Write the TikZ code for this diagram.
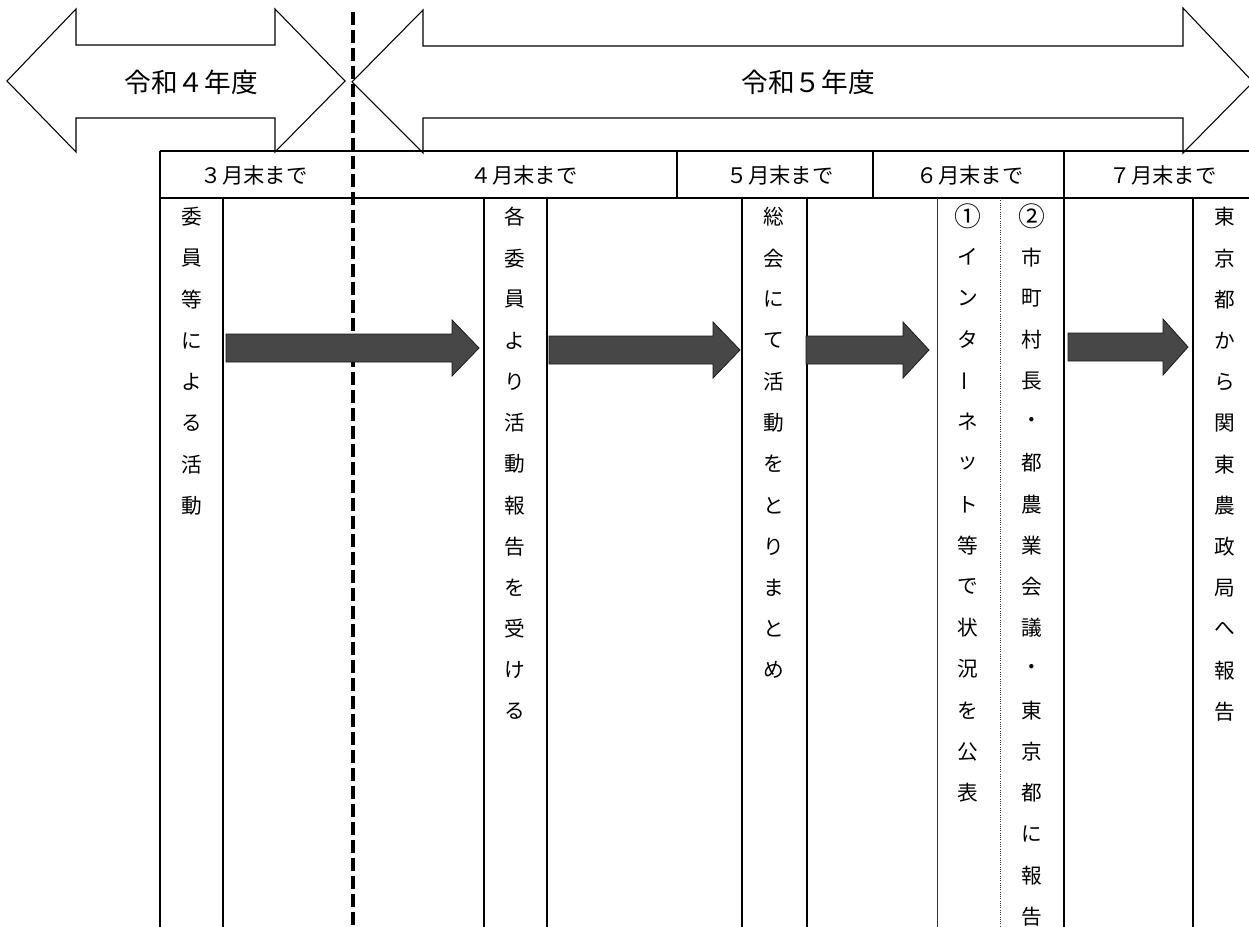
\documentclass[tikz,border=0pt]{standalone}
\usepackage{fontspec}
\usepackage{graphicx}
\newfontfamily\jp{Noto Sans CJK JP}
\newcommand\vbarchar{\rotatebox[origin=c]{90}{ー}}
\newcommand\circone{\scalebox{1.3}{①}}
\newcommand\circtwo{\scalebox{1.3}{②}}
\tikzset{
  outl/.style={draw=black, line width=0.8pt, fill=white, line join=miter},
  gridl/.style={draw=black, line width=0.9pt},
  thinl/.style={draw=black!80, line width=0.7pt},
  dotl/.style={draw=black!80, line width=0.7pt, densely dotted},
  dashv/.style={draw=black, line width=2.4pt, dash pattern=on 10pt off 3.5pt},
  blk/.style={fill=black!72, draw=black!90, line width=0.6pt, line join=miter},
  lbl/.style={font=\jp\fontsize{20pt}{20pt}\selectfont, inner sep=0pt},
  hdr/.style={font=\jp\fontsize{16pt}{16pt}\selectfont, inner sep=0pt},
  vch/.style={font=\jp\fontsize{15.5pt}{15.5pt}\selectfont, inner sep=0pt},
}
\begin{document}
\begin{tikzpicture}[x=0.75pt,y=-0.75pt]
\useasboundingbox (0,0) rectangle (1249,927);
\fill[white] (0,0) rectangle (1249,927);

% fiscal-year double arrows
\draw[outl] (7,81) -- (76,9) -- (76,45) -- (275,45) -- (275,9) -- (345,81)
  -- (275,152) -- (275,118) -- (76,118) -- (76,152) -- cycle;
\draw[outl] (352,82) -- (423,10) -- (423,46) -- (1183,46) -- (1183,8) -- (1253,82)
  -- (1183,153) -- (1183,118) -- (423,118) -- (423,153) -- cycle;
\node[lbl] (y4) at (191,82) {令和４年度};
\node[lbl] (y5) at (808,82) {令和５年度};

% table header
\draw[gridl] (160,151) -- (1260,151);
\draw[gridl] (160,198) -- (1260,198);
\draw[gridl] (160,151) -- (160,927);
\draw[gridl] (677,151) -- (677,198);
\draw[gridl] (873,151) -- (873,198);
\draw[gridl] (1064,151) -- (1064,927);
\node[hdr] (m3) at (254,175) {３月末まで};
\node[hdr] (m4) at (524,175) {４月末まで};
\node[hdr] (m5) at (780,175) {５月末まで};
\node[hdr] (m6) at (970,175) {６月末まで};
\node[hdr] (m7) at (1163,175) {７月末まで};

% body columns
\foreach \xx in {223,484,547,742,807,1193}
  \draw[gridl] (\xx,198) -- (\xx,927);
\draw[thinl] (937,198) -- (937,927);
\draw[dotl] (1000,198) -- (1000,927);

% year boundary
\coordinate (ytop) at (353,12);
\coordinate (ybot) at (353,927);
\draw[dashv] (ytop) -- (ybot);

% vertical texts
\foreach \c [count=\i from 0] in {委,員,等,に,よ,る,活,動}
  \node[vch] (a\i) at (192,217+41.2*\i) {\c};
\foreach \c [count=\i from 0] in {各,委,員,よ,り,活,動,報,告,を,受,け,る}
  \node[vch] (b\i) at (515,217+41.2*\i) {\c};
\foreach \c [count=\i from 0] in {総,会,に,て,活,動,を,と,り,ま,と,め}
  \node[vch] (c\i) at (774,217+41.2*\i) {\c};
\foreach \c [count=\i from 0] in {\circone,イ,ン,タ,\vbarchar,ネ,ッ,ト,等,で,状,況,を,公,表}
  \node[vch] (d\i) at (968,216+41.2*\i) {\c};
\foreach \c [count=\i from 0] in {\circtwo,市,町,村,長,・,都,農,業,会,議,・,東,京,都,に,報,告}
  \node[vch] (e\i) at (1032,216+41.2*\i) {\c};
\foreach \c [count=\i from 0] in {東,京,都,か,ら,関,東,農,政,局,へ,報,告}
  \node[vch] (f\i) at (1225,217+41.2*\i) {\c};

% flow arrows
\draw[blk] (226,334) -- (452,334) -- (452,320) -- (479,348) -- (452,376) -- (452,362) -- (226,362) -- cycle;
\draw[blk] (549,336) -- (713,336) -- (713,322) -- (740,350) -- (713,378) -- (713,364) -- (549,364) -- cycle;
\draw[blk] (806,336) -- (903,336) -- (903,322) -- (929,350) -- (903,378) -- (903,364) -- (806,364) -- cycle;
\draw[blk] (1068,333) -- (1163,333) -- (1163,319) -- (1188,347) -- (1163,375) -- (1163,361) -- (1068,361) -- cycle;
\end{tikzpicture}
\end{document}
